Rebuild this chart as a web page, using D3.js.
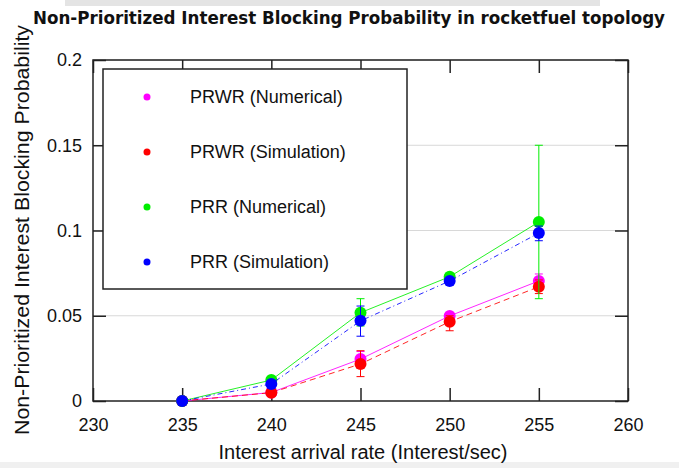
<!DOCTYPE html>
<html>
<head>
<meta charset="utf-8">
<script src="https://cdn.jsdelivr.net/npm/d3@7"></script>
<style>
  body { margin: 0; background: #fff; }
  svg { display: block; }
</style>
</head>
<body>
<script>
const rates = [235, 240, 245, 250, 255];
const xTicks = [230, 235, 240, 245, 250, 255, 260];
const yTicks = [0, 0.05, 0.1, 0.15, 0.2];

const prwrNum = [0, 0.005, 0.0246, 0.0499, 0.0704];
const prwrSim = [0, 0.0049, 0.0217, 0.0465, 0.067];
const prrNum = [0, 0.0123, 0.0518, 0.0729, 0.105];
const prrSim = [0, 0.010, 0.047, 0.0704, 0.0985];

// error bar ranges [low, high], null = none
const prwrNumErr = [null, null, [0.021, 0.029], null, [0.066, 0.0745]];
const prwrSimErr = [null, null, [0.0143, 0.0295], [0.0412, 0.050], [0.063, 0.071]];
const prrNumErr = [null, null, [0.044, 0.060], null, [0.060, 0.150]];
const prrSimErr = [null, null, [0.038, 0.0557], [0.069, 0.072], [0.094, 0.1026]];

const series = [
  { name: "PRWR (Numerical)", color: "#ff00ff", dash: null, values: prwrNum, err: prwrNumErr },
  { name: "PRWR (Simulation)", color: "#ff0000", dash: "6,4", values: prwrSim, err: prwrSimErr },
  { name: "PRR (Numerical)", color: "#00ee00", dash: null, values: prrNum, err: prrNumErr },
  { name: "PRR (Simulation)", color: "#0000ff", dash: "5,3,1,3", values: prrSim, err: prrSimErr },
];

const W = 679, H = 468;
const plot = { left: 93, right: 628, top: 60, bottom: 401 };
const FONT = "Liberation Sans, Arial, sans-serif";

const svg = d3.select("body").append("svg").attr("width", W).attr("height", H);

// faint slide frame behind the chart
svg.append("rect").attr("x", 65).attr("y", 0).attr("width", 535).attr("height", 6).attr("fill", "#e4e4e4");
svg.append("rect").attr("x", 0).attr("y", 462).attr("width", 679).attr("height", 6).attr("fill", "#f0f0f0");

const x = d3.scaleLinear().domain([230, 260]).range([plot.left, plot.right]);
const y = d3.scaleLinear().domain([0, 0.2]).range([plot.bottom, plot.top]);

// grid
svg.append("g").selectAll("line").data(yTicks.slice(1)).join("line")
  .attr("x1", plot.left).attr("x2", plot.right)
  .attr("y1", d => y(d)).attr("y2", d => y(d))
  .attr("stroke", "#d8d8d8").attr("stroke-width", 1);

// axes with inward ticks
const tickLen = 13;
const axisStyle = g => {
  g.select(".domain").remove();
  g.selectAll(".tick line").attr("stroke", "#222").attr("stroke-width", 1.5);
  g.selectAll("text").attr("font-family", FONT).attr("font-size", 18).attr("fill", "#111");
};
svg.append("g").attr("transform", `translate(0,${plot.bottom})`)
  .call(d3.axisBottom(x).tickValues(xTicks).tickSize(-tickLen).tickPadding(17))
  .call(axisStyle);
svg.append("g").attr("transform", `translate(0,${plot.top})`)
  .call(d3.axisTop(x).tickValues(xTicks).tickSize(-tickLen).tickFormat(""))
  .call(axisStyle);
svg.append("g").attr("transform", `translate(${plot.left},0)`)
  .call(d3.axisLeft(y).tickValues(yTicks).tickSize(-tickLen).tickPadding(11)
    .tickFormat(d => d === 0 ? "0" : String(d)))
  .call(axisStyle);
svg.append("g").attr("transform", `translate(${plot.right},0)`)
  .call(d3.axisRight(y).tickValues(yTicks).tickSize(-tickLen).tickFormat(""))
  .call(axisStyle);

svg.append("rect")
  .attr("x", plot.left).attr("y", plot.top)
  .attr("width", plot.right - plot.left).attr("height", plot.bottom - plot.top)
  .attr("fill", "none").attr("stroke", "#222").attr("stroke-width", 1.5);

// legend
svg.append("rect").attr("x", 103).attr("y", 69).attr("width", 304).attr("height", 220)
  .attr("fill", "#fff").attr("stroke", "#222").attr("stroke-width", 1.5);
const leg = svg.append("g").selectAll("g").data(series).join("g")
  .attr("transform", (d, i) => `translate(147,${97 + i * 55})`);
leg.append("circle").attr("r", 3.5).attr("fill", d => d.color);
leg.append("text").attr("x", 43).attr("dy", "0.36em")
  .attr("font-family", FONT).attr("font-size", 18)
  .attr("fill", "#111").text(d => d.name);

// lines, error bars, points
const line = d3.line().x((d, i) => x(rates[i])).y(d => y(d));
series.forEach(s => {
  const g = svg.append("g");
  g.append("path").datum(s.values).attr("d", line)
    .attr("fill", "none").attr("stroke", s.color).attr("stroke-width", 1)
    .attr("stroke-dasharray", s.dash).attr("opacity", 0.85);
  const errs = s.err.map((e, i) => ({ e, i })).filter(d => d.e);
  const eb = g.selectAll(".eb").data(errs).join("g").attr("stroke", s.color).attr("stroke-width", 1);
  eb.append("line").attr("x1", d => x(rates[d.i])).attr("x2", d => x(rates[d.i]))
    .attr("y1", d => y(d.e[0])).attr("y2", d => y(d.e[1]));
  eb.append("line").attr("x1", d => x(rates[d.i]) - 4).attr("x2", d => x(rates[d.i]) + 4)
    .attr("y1", d => y(d.e[0])).attr("y2", d => y(d.e[0]));
  eb.append("line").attr("x1", d => x(rates[d.i]) - 4).attr("x2", d => x(rates[d.i]) + 4)
    .attr("y1", d => y(d.e[1])).attr("y2", d => y(d.e[1]));
  g.selectAll("circle").data(s.values).join("circle")
    .attr("cx", (d, i) => x(rates[i])).attr("cy", d => y(d))
    .attr("r", 6).attr("fill", s.color);
});

// titles
svg.append("text").attr("x", 349).attr("y", 24).attr("text-anchor", "middle")
  .attr("font-family", "DejaVu Sans Condensed, DejaVu Sans, sans-serif")
  .attr("font-weight", "bold").attr("font-size", 17).attr("fill", "#111")
  .attr("textLength", 632).attr("lengthAdjust", "spacingAndGlyphs")
  .text("Non-Prioritized Interest Blocking Probability in rocketfuel topology");

svg.append("text").attr("x", 363).attr("y", 459).attr("text-anchor", "middle")
  .attr("font-family", FONT).attr("font-size", 20)
  .attr("fill", "#111").text("Interest arrival rate (Interest/sec)");

svg.append("text").attr("transform", "translate(29,230) rotate(-90)")
  .attr("text-anchor", "middle")
  .attr("font-family", FONT).attr("font-size", 21)
  .attr("textLength", 410).attr("lengthAdjust", "spacingAndGlyphs")
  .attr("fill", "#111").text("Non-Prioritized Interest Blocking Probability");
</script>
</body>
</html>
